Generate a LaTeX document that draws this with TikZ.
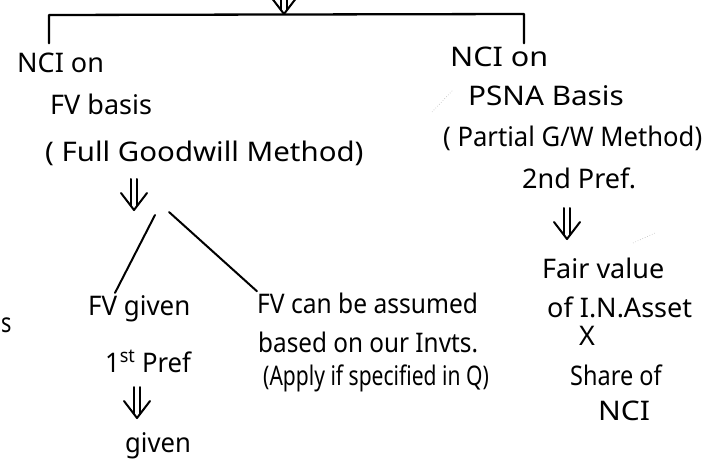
\documentclass[tikz,border=0pt]{standalone}
\usepackage{fontspec}
\usepackage{graphicx}
\setmainfont{Noto Sans}
\usetikzlibrary{calc}
% horizontal squeeze/stretch of a line of text
\newcommand\sqz[2]{\scalebox{#1}[1]{#2}}
\begin{document}
\begin{tikzpicture}[x=1pt,y=-1pt,
  hw/.style={anchor=base west, inner sep=0pt, font=\fontsize{27}{30}\selectfont},
  hwc/.style={hw, anchor=base},
  link/.style={line width=2.3pt, line cap=round, line join=round},
  smudge/.style={gray!60, line width=0.6pt, dotted},
  % hand-drawn double down arrow, tip at the origin
  darrow/.pic={
    \draw[line width=2pt, line cap=round] (-3,-31) -- (-3,-4) (3,-31) -- (3,-4);
    \draw[line width=2pt, line cap=round, line join=round] (-13,-17) -- (0,0) -- (13,-17);
  },
]
\useasboundingbox (0,0) rectangle (703,468);

% left branch: NCI on fair value basis
\node[hw] (nciL) at (17,73) {NCI on};
\node[hw] (fvb) at (50,114) {FV basis};
\node[hw] (fgw) at (45,161) {\sqz{1.09}{( Full Goodwill Method)}};

% right branch: NCI on proportionate share of net assets
\node[hw] (nciR) at (450,67) {\sqz{1.13}{NCI on}};
\node[hw] (psna) at (468,106) {\sqz{1.1}{PSNA Basis}};
\node[hw] (pgw) at (443,146) {\sqz{0.95}{( Partial G/W Method)}};
\node[hw] (pref2) at (522,188) {2nd Pref.};
\node[hw] (fair) at (542,278) {Fair value};
\node[hw] (ina) at (547,317) {of I.N.Asset};
\node[hwc] (times) at (587,345) {X};
\node[hw] (share) at (570,385) {\sqz{0.87}{Share of}};
\node[hw] (nci) at (598,420) {\sqz{1.11}{NCI}};

% sub-branches of the full goodwill method
\node[hw] (fvg) at (88,315) {\sqz{0.96}{FV given}};
\node[hw] (pref1) at (105,372) {\sqz{0.95}{1\textsuperscript{st} Pref}};
\node[hw] (given) at (125,452) {\sqz{0.95}{given}};
\node[hw] (fvc) at (257,313) {\sqz{0.91}{FV can be assumed}};
\node[hw] (based) at (258,352) {\sqz{0.9}{based on our Invts.}};
\node[hw] (apply) at (263,385) {\sqz{0.78}{(Apply if specified in Q)}};

% stray letter at the page edge
\node[hw] (s) at (1,332) {\sqz{0.8}{s}};

% top bracket joining the two methods
\coordinate (barL) at (49,15);
\coordinate (barR) at (524,14);
\coordinate (barIn) at (284,14);
\pic at (barIn) {darrow};
\draw[link] ($(barL |- nciL.north)+(0,-10)$) -- (barL) -- (barR) -- ($(barR |- nciR.north)+(0,-4)$);

% down arrows between the lines of text
\pic at (134,210) {darrow};
\pic at (137,418) {darrow};
\pic at (567,239) {darrow};

% fork below the full goodwill method
\coordinate (forkA) at (155,215);
\coordinate (forkB) at (169,212);
\draw[link, line width=2pt] (forkA) -- ($(fvg.north west)+(27,-2)$);
\draw[link, line width=2pt] (forkB) -- ($(fvc.north west)+(0,-1)$);

% faint pencil marks
\draw[smudge] (432,112) -- (453,90);
\draw[smudge] (633,243) -- (655,233);
\end{tikzpicture}
\end{document}
